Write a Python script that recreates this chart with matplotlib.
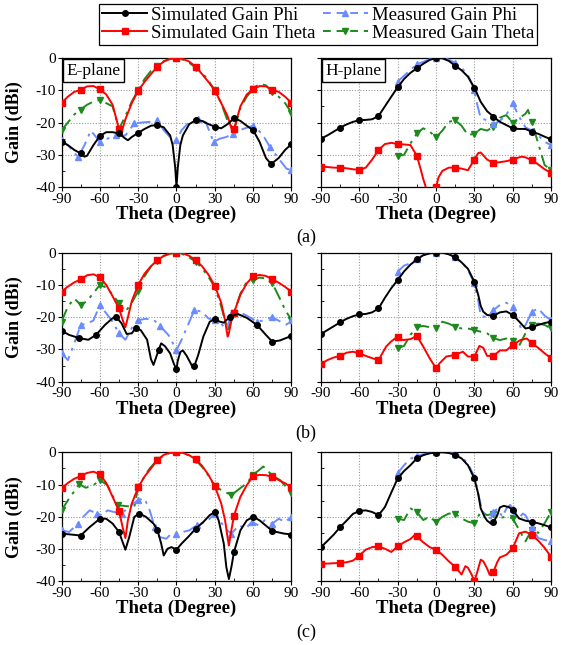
import matplotlib
matplotlib.use("Agg")
import matplotlib.pyplot as plt
from matplotlib.lines import Line2D
from matplotlib.ticker import MultipleLocator

plt.rcParams['font.family'] = ['Liberation Serif', 'DejaVu Serif']
plt.rcParams['axes.unicode_minus'] = False

# ---------------- data (Gain in dBi vs Theta in degrees) ----------------
G5 = list(range(-90, 95, 5))          # -90 ... 90 step 5
G5H = list(range(-30, 95, 5))         # -30 ... 90 step 5

# (a) E-plane
a_e_simphi_x = [-90,-85,-80,-75,-72,-70,-65,-60,-55,-50,-45,-40,-38,-35,-30,-25,-20,-15,-10,-5,-3,-1,0,1,3,5,10,15,20,25,30,35,40,45,50,55,60,65,70,74,80,85,90]
a_e_simphi_y = [-26,-27,-28.5,-29.6,-30.6,-30.3,-27,-24.2,-23,-23,-23.4,-25,-25.5,-24.5,-23.2,-22,-21,-20.8,-21.5,-24,-27,-34,-40,-34,-27,-24,-20.5,-19.3,-19.5,-20.5,-21.3,-21.8,-20.5,-18.7,-19.5,-21,-22.4,-26,-31,-32.9,-31,-28.5,-26.7]
a_e_simth_x = [-90,-85,-80,-75,-70,-65,-60,-55,-50,-45,-43,-40,-35,-30,-25,-20,-15,-10,-5,0,5,10,15,20,25,30,35,40,44,45,50,55,60,65,70,75,80,85,90]
a_e_simth_y = [-13.9,-12,-10.5,-9.9,-8.8,-8.7,-9.7,-11.3,-14.5,-22,-23,-19,-14,-10.1,-7.4,-5,-2.7,-1.1,-0.3,0,-0.3,-1.1,-2.7,-5,-7.4,-10.1,-14,-18,-23,-22,-15,-11.3,-9.7,-8.7,-8.8,-9.9,-10.5,-12,-13.9]
a_e_meaphi_x = [-90,-84,-77,-72,-67,-60,-54,-47,-40,-33,-27,-21,-15,-10,-4,0,4,10,17,23,29,34,39,44,52,60,67,73,81,86,90]
a_e_meaphi_y = [-25.3,-27.5,-30.8,-27,-22.5,-26,-25,-24,-24,-20.3,-20,-19.8,-19.3,-22.4,-25,-25.5,-22.4,-19.8,-19,-20,-26,-25,-24.5,-23.5,-22,-21,-23.5,-27.5,-31.7,-34.3,-34.8]
a_e_meath_x = G5
a_e_meath_y = [-22.4,-20,-17.5,-16,-14.5,-13.5,-13,-14,-15,-22,-18,-13.5,-10,-6.5,-4,-2.5,-1,-0.2,0,-0.5,-1.5,-3,-4.5,-7,-10,-14,-19.5,-22.5,-15.5,-12,-9.5,-8,-8.5,-10.5,-12,-14,-17]

# (a) H-plane
a_h_simphi_x = G5
a_h_simphi_y = [-25,-24,-22.8,-21.6,-20.6,-19.8,-19.3,-19.2,-19,-18,-15,-12,-9.1,-6.5,-4.6,-3.2,-1.8,-0.6,0,-0.1,-0.9,-2.4,-3.8,-5.8,-9.2,-13.6,-16.5,-18.2,-19.8,-20.8,-21.8,-22,-22,-22.9,-23.5,-24.4,-25.2]
a_h_simth_x = [-90,-85,-80,-75,-70,-65,-60,-55,-50,-45,-40,-35,-30,-25,-20,-15,-12,-10,-8,-6,-2,0,2,5,10,15,20,25,30,33,35,40,45,50,55,60,65,67,70,75,80,85,90]
a_h_simth_y = [-33.7,-33.8,-34,-34,-34.2,-34.5,-34.7,-34,-31.5,-28.5,-26.7,-26.3,-26.7,-26.8,-27,-30.3,-34.5,-37.5,-40,-46,-46,-40,-37,-35,-34,-34,-34.3,-34.8,-31.5,-29.5,-29.3,-31.5,-32.5,-32.3,-32,-31.5,-30.8,-30.6,-30.8,-31.7,-33,-34.5,-35.6]
a_h_meaphi_x = [-30,-25,-20,-15,-10,-5,0,5,10,15,20,25,30,32,35,40,45,50,55,60,65,70,75,80,85,90]
a_h_meaphi_y = [-7.3,-5.5,-3.7,-2,-1.2,-0.4,0,0.2,-0.5,-1.5,-3,-5.3,-9.9,-14,-18.7,-19.3,-20.5,-19.5,-17.7,-14,-18.2,-21.5,-22.5,-24,-26,-27]
a_h_meath_x = [-30,-25,-20,-15,-10,-5,0,5,10,15,20,25,30,35,40,45,50,55,60,65,70,72,75,80,85,90]
a_h_meath_y = [-30.4,-30,-26.5,-23.4,-21.8,-22.8,-24.6,-22.5,-19.8,-19.3,-21,-23.9,-23.5,-22,-22.5,-21.3,-18.5,-17.7,-20,-18.7,-17.3,-16.1,-19.8,-26.5,-33.2,-34.6]

# (b) E-plane
b_e_simphi_x = [-90,-84,-76,-69,-63,-56,-50,-47,-43,-39,-35,-32,-28,-23,-20,-18,-14,-12,-9,-5,-2,0,1,3,5,8,12,14,17,21,26,30,34,37,42,48,55,63,70,75,81,90]
b_e_simphi_y = [-24.2,-25.5,-26.5,-27,-25.5,-22.4,-20.3,-20,-21.9,-25.2,-25,-23.4,-24,-27,-33,-34.8,-30.2,-28.1,-29,-31.2,-34.5,-36.2,-33.5,-30.8,-30.3,-32,-35,-35.1,-31.7,-26,-21.4,-20.6,-21.4,-21.7,-19.8,-19,-20.2,-22.4,-25.5,-27.6,-27.2,-25.8]
b_e_simth_x = [-90,-85,-80,-75,-70,-65,-60,-55,-50,-45,-42,-40,-38,-35,-30,-25,-20,-15,-10,-5,0,5,10,15,20,25,30,35,38,40,41,43,45,50,55,60,65,70,75,80,85,90]
b_e_simth_y = [-12.1,-10.5,-9.2,-8.3,-7,-6.7,-7.6,-10,-13.5,-17.3,-21,-23.1,-20,-15,-10,-6.5,-4.2,-2.3,-1,-0.2,0,-0.2,-1,-2.3,-4.2,-6.8,-10.3,-15.5,-21,-26,-25,-21,-18.6,-13,-9.5,-7.3,-6.9,-7.2,-8.3,-9.3,-10.6,-12.1]
b_e_meaphi_x = [-90,-85,-80,-75,-70,-65,-60,-56,-51,-45,-40,-35,-30,-24,-18,-13,-6,0,4,9,14,20,25,30,35,39,43,47,55,63,68,75,81,86,90]
b_e_meaphi_y = [-31.2,-33.3,-28.1,-22.4,-22,-21,-16.2,-18.3,-20.8,-25,-27,-23.4,-20.9,-20.5,-20.8,-22.6,-25.7,-30.2,-27,-22.4,-17.8,-18.3,-20.4,-21,-22,-23.9,-19,-18,-19.5,-21.4,-21,-20,-21.3,-22.3,-20.9]
b_e_meath_x = G5
b_e_meath_y = [-21.4,-16.7,-14.2,-16.2,-15,-12.5,-10,-10.8,-13,-15.7,-18.3,-15.5,-12,-7.3,-4.3,-2.5,-1,-0.3,0,-0.5,-1.5,-2.8,-4.8,-7.5,-10.7,-16.7,-24,-18.7,-12.7,-9,-8.5,-7.7,-8,-9.5,-13.5,-17.7,-20.9]

# (b) H-plane
b_h_simphi_x = [-90,-85,-80,-75,-70,-65,-60,-55,-50,-45,-40,-35,-30,-25,-20,-15,-10,-5,0,5,10,15,20,25,30,33,35,37,40,45,50,55,60,65,70,75,80,85,90]
b_h_simphi_y = [-25.2,-24,-22.8,-21.6,-20.5,-19.7,-19.1,-19,-18.5,-17.3,-14,-11,-8.5,-5.8,-3.7,-2.1,-0.8,-0.2,0,0,-0.5,-1.4,-3,-5,-9,-13,-16.5,-18.3,-19.3,-19.6,-18.5,-18.2,-19.3,-21.3,-23.5,-23.1,-22.4,-21.8,-21.4]
b_h_simth_x = [-90,-85,-80,-75,-70,-65,-60,-55,-50,-45,-39,-35,-30,-26,-20,-15,-10,-5,0,3,8,15,21,25,30,34,37,40,45,50,55,60,66,71,75,80,85,90]
b_h_simth_y = [-34.5,-33.3,-32.5,-32,-31,-30.7,-31.2,-32,-32.7,-33.3,-29.1,-27.5,-26,-27.1,-26.8,-25.8,-29.1,-32.7,-35.8,-34.2,-32.2,-31.7,-30.7,-32.2,-32.2,-28.9,-29.5,-32,-32,-30.3,-30.3,-28.6,-27.1,-26.6,-28.1,-29.5,-31.2,-32.7]
b_h_meaphi_x = [-30,-25,-20,-15,-10,-5,0,5,10,15,20,25,30,33,35,40,45,50,55,60,63,67,70,75,80,85,90]
b_h_meaphi_y = [-5.9,-4,-3.3,-1.8,-0.7,-0.2,0,0,-0.4,-1.4,-2.8,-5.3,-9.5,-14.7,-19.6,-20,-17.8,-16.2,-15.5,-16.8,-20,-24,-22.5,-18.3,-17.3,-19.5,-20.9]
b_h_meath_x = G5H
b_h_meath_y = [-29.6,-28.9,-25.5,-23.1,-22.7,-23.1,-23.3,-21.4,-22,-22.9,-23.5,-23.5,-24,-24.5,-25,-26.5,-27.1,-26.6,-27.5,-28.9,-25,-22.4,-22,-22.4,-23.5]

# (c) E-plane
c_e_simphi_x = [-90,-75,-68,-60,-55,-50,-45,-40,-37,-33,-29,-24,-18,-15,-12,-10,-7,-4,0,4,9,15,21,26,30,33,37,39,41,43,45,50,55,60,65,75,84,90]
c_e_simphi_y = [-25.2,-25.8,-23.2,-20.6,-20.6,-22.1,-24.7,-30.2,-26.3,-20,-19,-20,-22.1,-24,-28.3,-32,-29.9,-29.4,-30.2,-28.3,-26.3,-23.7,-21.6,-19.5,-18.5,-21.1,-28.3,-35.6,-39.3,-35.5,-30.9,-24.2,-21.1,-20,-21.1,-24.4,-25.2,-25.5]
c_e_simth_x = [-90,-85,-80,-75,-70,-65,-60,-55,-50,-45,-42,-40,-38,-35,-30,-25,-20,-15,-10,-5,0,5,10,15,20,25,30,35,38,40,41,43,45,50,55,60,65,70,75,80,85,90]
c_e_simth_y = [-11.2,-9.5,-8.2,-7.4,-6.4,-6,-6.8,-9.5,-13.8,-18.2,-23.5,-26.6,-21,-15.9,-10.9,-7.5,-5,-2.4,-0.8,-0.1,0,-0.2,-0.9,-2.2,-4.2,-7,-10.5,-15.9,-21,-26.5,-28.9,-24,-19.6,-13.8,-10.2,-7.3,-7,-7.1,-7.6,-8.6,-9.6,-10.9]
c_e_meaphi_x = [-90,-84,-77,-73,-68,-62,-58,-54,-49,-43,-37,-30,-25,-21,-17,-13,-8,-4,0,5,10,16,22,26,30,34,38,43,49,54,59,64,69,75,80,85,90]
c_e_meaphi_y = [-24.2,-24.7,-22.1,-20,-18,-19,-19.6,-18,-18.5,-19,-16.9,-14.8,-14.3,-18,-23.2,-26.3,-26.8,-25.2,-25.2,-24.7,-24.2,-22.6,-21.6,-20.6,-19,-21.1,-23.7,-25.2,-22.6,-23.7,-21.6,-22.6,-21.1,-22.1,-20.6,-21.6,-20]
c_e_meath_x = [-90,-84,-76,-71,-65,-60,-54,-49,-46,-39,-33,-30,-25,-21,-15,-10,-5,0,5,10,15,20,25,30,37,43,48,55,60,68,75,81,90]
c_e_meath_y = [-18,-14.3,-9.9,-11,-10.2,-8.6,-10.2,-14.3,-16.4,-16.7,-16.9,-10.9,-7.5,-5,-2.4,-1,-0.2,0,-0.3,-1,-2.4,-4.5,-7.2,-10.6,-12.1,-13.3,-11.7,-9.6,-7,-4.4,-7.2,-8.6,-12.6]

# (c) H-plane
c_h_simphi_x = [-90,-85,-80,-75,-70,-65,-60,-55,-50,-45,-40,-35,-30,-25,-20,-15,-10,-5,0,5,10,15,20,25,30,33,35,38,40,43,45,48,50,53,57,60,65,70,75,80,85,90]
c_h_simphi_y = [-29.4,-27.5,-25.5,-23.2,-21.2,-19.1,-18.2,-18,-18.5,-19.5,-17,-12.5,-8.1,-5.8,-4,-1.9,-0.9,-0.3,-0.1,0,-0.2,-0.8,-1.9,-4,-8.1,-12.8,-17.4,-20,-21.2,-22.1,-21.6,-19.5,-17.1,-16.6,-17,-17.8,-20.5,-21.2,-21.6,-22,-22.6,-23.3]
c_h_simth_x = [-90,-85,-80,-75,-70,-65,-60,-55,-50,-45,-40,-35,-30,-25,-20,-17,-15,-10,-5,0,5,10,15,20,23,25,28,30,32,35,37,40,42,45,48,50,55,60,63,65,70,75,80,85,90]
c_h_simth_y = [-34.6,-34.5,-34.4,-34.3,-34.1,-33.6,-32,-30.2,-29.4,-29.2,-29.9,-30.9,-29.2,-27.9,-26.9,-25.8,-26.1,-27.9,-29.4,-30.2,-31.8,-33.8,-35.5,-37.9,-35.3,-35.8,-38,-40,-37.5,-33.3,-33.8,-36,-38,-37,-34,-32.6,-31.8,-29.8,-27,-25.1,-24.6,-25.6,-27.4,-29.6,-32.4]
c_h_meaphi_x = [-30,-25,-20,-15,-10,-5,0,5,10,15,20,25,30,33,36,40,43,45,48,52,55,58,60,62,65,68,70,75,80,85,90]
c_h_meaphi_y = [-6.5,-4,-2,-1.2,-0.6,-0.3,0,0.2,-0.1,-0.5,-1.4,-3.5,-7.6,-12.8,-18,-20,-20.5,-18.5,-17.5,-20,-17.5,-16.3,-17.5,-19.5,-20.3,-19,-19.5,-23.1,-26.6,-27.2,-27.5]
c_h_meath_x = G5H
c_h_meath_y = [-20.6,-21,-17.4,-18.5,-21,-20,-21.6,-20,-19,-19,-20.5,-21.5,-22,-18.5,-19.5,-19,-20.3,-20,-20.5,-24,-27.6,-24,-25,-22,-18.5]

panels = [
    ("a", "E", a_e_simphi_x, a_e_simphi_y, a_e_simth_x, a_e_simth_y, a_e_meaphi_x, a_e_meaphi_y, a_e_meath_x, a_e_meath_y),
    ("a", "H", a_h_simphi_x, a_h_simphi_y, a_h_simth_x, a_h_simth_y, a_h_meaphi_x, a_h_meaphi_y, a_h_meath_x, a_h_meath_y),
    ("b", "E", b_e_simphi_x, b_e_simphi_y, b_e_simth_x, b_e_simth_y, b_e_meaphi_x, b_e_meaphi_y, b_e_meath_x, b_e_meath_y),
    ("b", "H", b_h_simphi_x, b_h_simphi_y, b_h_simth_x, b_h_simth_y, b_h_meaphi_x, b_h_meaphi_y, b_h_meath_x, b_h_meath_y),
    ("c", "E", c_e_simphi_x, c_e_simphi_y, c_e_simth_x, c_e_simth_y, c_e_meaphi_x, c_e_meaphi_y, c_e_meath_x, c_e_meath_y),
    ("c", "H", c_h_simphi_x, c_h_simphi_y, c_h_simth_x, c_h_simth_y, c_h_meaphi_x, c_h_meaphi_y, c_h_meath_x, c_h_meath_y),
]
legend_labels = ["Simulated Gain Phi", "Simulated Gain Theta", "Measured Gain Phi", "Measured Gain Theta"]
x_ticks = [-90, -60, -30, 0, 30, 60, 90]
y_ticks = [0, -10, -20, -30, -40]

# ---------------- style ----------------
C_BLACK = "#000000"
C_RED = "#ff0000"
C_BLUE = "#6b8cff"
C_GREEN = "#1c8a1c"
DASHDOT = (0, (7, 3, 1.5, 3))


def mark_idx(xs, start=-90):
    idx = []
    for m in range(start, 91, 15):
        best = min(range(len(xs)), key=lambda i: abs(xs[i] - m))
        if abs(xs[best] - m) <= 4 and best not in idx:
            idx.append(best)
    return idx


W, H = 570.0, 645.0
row_tops = [58, 252.7, 452.3]
col_lefts = [61.5, 321]
aw, ah = 230, 129

fig = plt.figure(figsize=(W / 100, H / 100), dpi=100)

for k, p in enumerate(panels):
    row, plane = k // 2, k % 2
    tag = p[0]
    ax = fig.add_axes([col_lefts[plane] / W, 1 - (row_tops[row] + ah) / H, aw / W, ah / H])
    sx, sy, tx, ty, mx, my, nx, ny = p[2:]
    ax.plot(nx, ny, color=C_GREEN, lw=1.4, ls=DASHDOT, marker="v", ms=4.5,
            markevery=mark_idx(nx), zorder=3)
    ax.plot(mx, my, color=C_BLUE, lw=1.4, ls=DASHDOT, marker="^", ms=4.5,
            markevery=mark_idx(mx), zorder=3)
    ax.plot(tx, ty, color=C_RED, lw=1.4, marker="s", ms=4.2,
            markevery=mark_idx(tx), zorder=4)
    ax.plot(sx, sy, color=C_BLACK, lw=1.4, marker="o", ms=4,
            markevery=mark_idx(sx), zorder=5)
    ax.set_xlim(-90, 90)
    ax.set_ylim(-40, 0)
    ax.set_xticks(x_ticks)
    ax.set_yticks(y_ticks)
    ax.xaxis.set_minor_locator(MultipleLocator(15))
    ax.yaxis.set_minor_locator(MultipleLocator(5))
    ax.grid(True, which="major", ls=(0, (1, 1.5)), color="#9a9a9a", lw=0.8)
    ax.tick_params(which="major", direction="out", length=3, width=0.8, labelsize=11, pad=1)
    ax.tick_params(which="minor", direction="in", length=2, width=0.6)
    for s in ax.spines.values():
        s.set_linewidth(0.9)
    if plane == 0:
        ax.set_ylabel("Gain (dBi)", fontsize=13, fontweight="bold")
        ax.yaxis.set_label_coords(-(col_lefts[0] - 23) / aw, 0.5)
    else:
        ax.set_yticklabels([])
    ax.set_xlabel("Theta (Degree)", fontsize=13.5, fontweight="bold", labelpad=0)
    if row == 0:
        ax.text(0.02, 0.965, "E-plane" if plane == 0 else "H-plane", transform=ax.transAxes,
                fontsize=12.5, va="top", ha="left", zorder=10,
                bbox=dict(boxstyle="square,pad=0.2", fc="white", ec="black", lw=1))
    if plane == 0:
        ytxt = {0: 237, 1: 433, 2: 632}[row]
        fig.text(306 / W, 1 - ytxt / H, "(%s)" % tag, fontsize=13, ha="center", va="center")

handles = [
    Line2D([], [], color=C_BLACK, lw=1.4, marker="o", ms=4),
    Line2D([], [], color=C_RED, lw=1.4, marker="s", ms=4.2),
    Line2D([], [], color=C_BLUE, lw=1.4, ls=(0, (4, 3)), marker="^", ms=4),
    Line2D([], [], color=C_GREEN, lw=1.4, ls=(0, (4, 3)), marker="v", ms=4),
]
leg = fig.legend(handles, legend_labels, ncol=2, loc="upper center",
                 bbox_to_anchor=(318 / W, 1 - 4 / H), fontsize=13.5, frameon=True,
                 fancybox=False, edgecolor="black", framealpha=1,
                 handlelength=2.4, handletextpad=0.2, columnspacing=0.4,
                 borderpad=0.15, labelspacing=0.05, numpoints=1, borderaxespad=0)
leg.get_frame().set_linewidth(0.9)

fig.savefig("out.png", dpi=100)
